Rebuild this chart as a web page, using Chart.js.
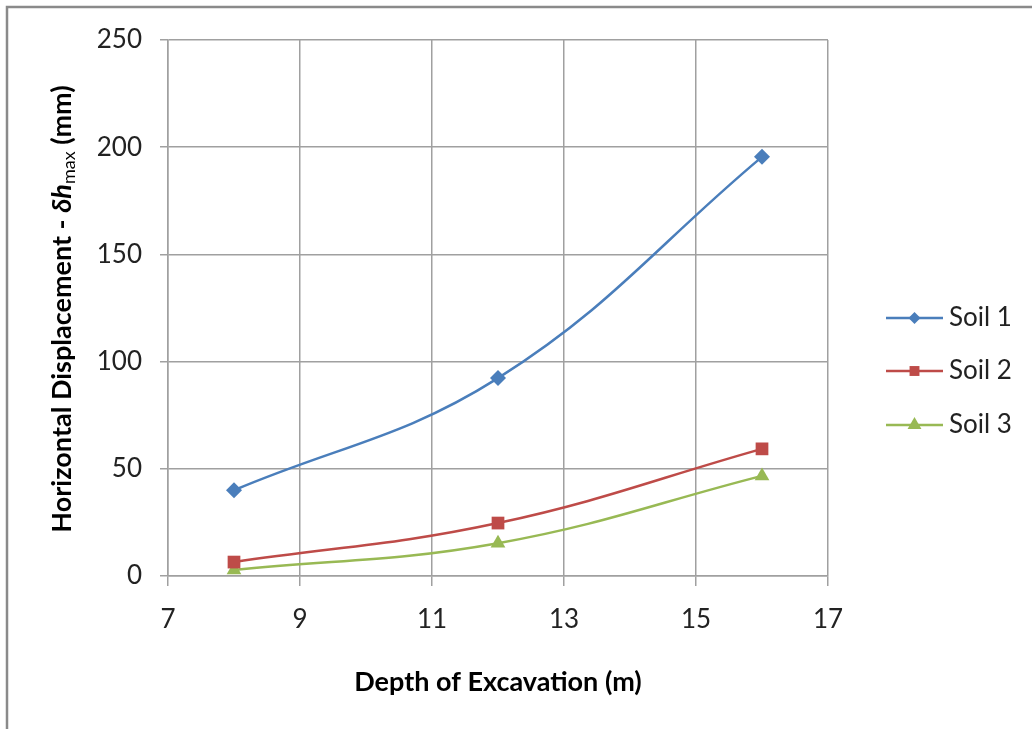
<!DOCTYPE html>
<html>
<head>
<meta charset="utf-8">
<script src="https://cdn.jsdelivr.net/npm/chart.js@4/dist/chart.umd.min.js"></script>
<style>
  html, body { margin: 0; padding: 0; background: #fff; }
  #wrap { width: 1032px; height: 729px; }
</style>
</head>
<body>
<div id="wrap"><canvas id="chart" width="1032" height="729"></canvas></div>
<script>
const depths = [8, 12, 16];
const soil1 = [40, 92.3, 195.5];
const soil2 = [6.5, 24.7, 59.3];
const soil3 = [2.8, 15.3, 46.7];
const seriesNames = ['Soil 1', 'Soil 2', 'Soil 3'];
const xTicks = [7, 9, 11, 13, 15, 17];
const yTicks = [0, 50, 100, 150, 200, 250];

const colors = ['#4A7EBB', '#BE4B48', '#98B954'];
const markers = ['rectRot', 'rect', 'triangle'];
const markerSizes = [8, 9, 8.5];
const legendMarkerSizes = [6, 7, 8];
const FONT = 'Lato, "Open Sans", sans-serif';

const toPoints = (vals) => depths.map((d, i) => ({ x: d, y: vals[i] }));

const makeSet = (label, vals, i) => ({
  label: label,
  data: toPoints(vals),
  borderColor: colors[i],
  backgroundColor: colors[i],
  borderWidth: 2.5,
  tension: 0.4,
  pointStyle: markers[i],
  pointRadius: markerSizes[i],
  pointBorderWidth: 0,
  pointHoverRadius: markerSizes[i],
  fill: false
});

// frame, axis titles and legend drawn by hand
const decorations = {
  id: 'decorations',
  afterDraw(chart) {
    const ctx = chart.ctx;
    ctx.save();

    // outer frame (top and left edges visible)
    ctx.strokeStyle = '#8a8a8a';
    ctx.lineWidth = 2.5;
    ctx.beginPath();
    ctx.moveTo(7, 729);
    ctx.lineTo(7, 7);
    ctx.lineTo(1032, 7);
    ctx.stroke();

    ctx.fillStyle = '#000';

    // x title
    ctx.font = 'bold 27px ' + FONT;
    ctx.textAlign = 'center';
    ctx.textBaseline = 'middle';
    ctx.fillText('Depth of Excavation (m)', 498, 682);

    // y title with italic delta-h and subscript
    const parts = [
      { t: 'Horizontal Displacement - ', f: 'bold 27px ' + FONT, dy: 0 },
      { t: '\u03B4h', f: 'italic bold 27px ' + FONT, dy: 0 },
      { t: 'max', f: '18px ' + FONT, dy: 7 },
      { t: ' (mm)', f: 'bold 27px ' + FONT, dy: 0 }
    ];
    let total = 0;
    parts.forEach(p => { ctx.font = p.f; p.w = ctx.measureText(p.t).width; total += p.w; });
    ctx.translate(62, 309);
    ctx.rotate(-Math.PI / 2);
    ctx.textAlign = 'left';
    let px = -total / 2;
    parts.forEach(p => {
      ctx.font = p.f;
      ctx.fillText(p.t, px, p.dy);
      px += p.w;
    });
    ctx.setTransform(1, 0, 0, 1, 0, 0);

    // legend
    const rows = [318, 371, 425];
    chart.data.datasets.forEach((ds, i) => {
      const y = rows[i];
      ctx.strokeStyle = ds.borderColor;
      ctx.lineWidth = 2.5;
      ctx.beginPath();
      ctx.moveTo(886, y);
      ctx.lineTo(943, y);
      ctx.stroke();
      ctx.fillStyle = ds.borderColor;
      Chart.helpers.drawPoint(ctx, {
        pointStyle: ds.pointStyle,
        radius: legendMarkerSizes[i],
        borderWidth: 0
      }, 914.5, y);
      ctx.fillStyle = '#222';
      ctx.font = '26px ' + FONT;
      ctx.textAlign = 'left';
      ctx.textBaseline = 'middle';
      ctx.fillText(ds.label, 949, y);
    });

    ctx.restore();
  }
};

const ctx = document.getElementById('chart').getContext('2d');
new Chart(ctx, {
  type: 'line',
  data: {
    datasets: [
      makeSet(seriesNames[0], soil1, 0),
      makeSet(seriesNames[1], soil2, 1),
      makeSet(seriesNames[2], soil3, 2)
    ]
  },
  options: {
    responsive: false,
    animation: false,
    layout: { padding: { top: 40, right: 204, left: 0, bottom: 0 } },
    plugins: {
      legend: { display: false },
      tooltip: { enabled: false }
    },
    scales: {
      x: {
        type: 'linear',
        min: 7,
        max: 17,
        afterBuildTicks: (scale) => { scale.ticks = xTicks.map(v => ({ value: v })); },
        afterFit: (scale) => { scale.height = 153; },
        grid: { color: '#a0a0a0', lineWidth: 1.5, tickLength: 10, tickColor: '#a0a0a0' },
        border: { color: '#a0a0a0', width: 1.5 },
        ticks: { color: '#222', font: { family: FONT, size: 26 }, padding: 18, maxRotation: 0 }
      },
      y: {
        min: 0,
        max: 250,
        afterBuildTicks: (scale) => { scale.ticks = yTicks.map(v => ({ value: v })); },
        afterFit: (scale) => { scale.width = 168; },
        grid: { color: '#a0a0a0', lineWidth: 1.5, tickLength: 8, tickColor: '#a0a0a0' },
        border: { color: '#a0a0a0', width: 1.5 },
        ticks: { color: '#222', font: { family: FONT, size: 26 }, padding: 18 }
      }
    }
  },
  plugins: [decorations]
});
</script>
</body>
</html>
